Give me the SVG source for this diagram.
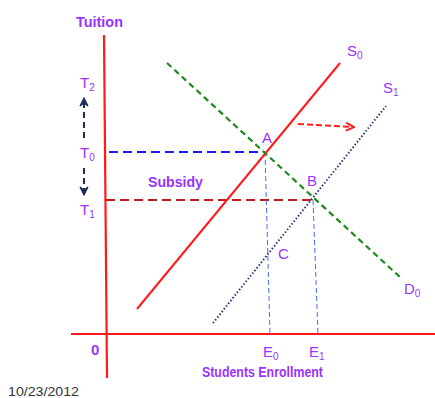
<svg xmlns="http://www.w3.org/2000/svg" width="435" height="398" viewBox="0 0 435 398">
<style>
.lbl{font-family:"Liberation Sans",Arial,sans-serif;fill:#9933ff;font-size:15px}
.sub{font-size:10px}
.ax{stroke:#ff1a1a;stroke-width:2.2;fill:none}
</style>
<defs>
<marker id="ah" viewBox="0 0 10 10" refX="8" refY="5" markerWidth="5" markerHeight="5" orient="auto"><path d="M1,1 L9,5 L1,9 L4,5 Z" fill="#1f2d5a" stroke="#1f2d5a" stroke-width="1.2"/></marker>
<marker id="rh" viewBox="0 0 10 10" refX="8" refY="5" markerWidth="5" markerHeight="5" orient="auto"><path d="M1,1 L9,5 L1,9" fill="none" stroke="#ff2020" stroke-width="2"/></marker>
</defs>
<rect width="435" height="398" fill="#fff"/>
<g id="connectors">
<line id="y-axis" class="ax" x1="104" y1="35" x2="107" y2="378"/>
<line id="x-axis" class="ax" x1="71" y1="334" x2="435" y2="334"/>
<line x1="109" y1="152" x2="265" y2="152" stroke="#1a1aff" stroke-width="2.2" stroke-dasharray="9,5"/>
<line x1="106" y1="200" x2="313" y2="200" stroke="#c41a1a" stroke-width="2.2" stroke-dasharray="9,5"/>
<line x1="265" y1="152" x2="270" y2="334" stroke="#4a6aff" stroke-width="1" stroke-dasharray="5,3"/>
<line x1="313" y1="200" x2="318" y2="334" stroke="#4a6aff" stroke-width="1" stroke-dasharray="5,3"/>
<line id="S0-line" x1="137" y1="309" x2="340" y2="63" stroke="#ff1a1a" stroke-width="2"/>
<line id="S1-line" x1="213" y1="323" x2="386" y2="106" stroke="#2b3d7a" stroke-width="2" stroke-dasharray="1.5,2"/>
<line id="D0-line" x1="167" y1="63" x2="401" y2="278" stroke="#1e8a1e" stroke-width="2.2" stroke-dasharray="6,4"/>
<line x1="298" y1="124" x2="353" y2="127" stroke="#ff2020" stroke-width="2" stroke-dasharray="6,3" marker-end="url(#rh)"/>
<line x1="84" y1="138" x2="84" y2="99" stroke="#1f2d5a" stroke-width="2" stroke-dasharray="6,4" marker-end="url(#ah)"/>
<line x1="84" y1="168" x2="84" y2="194" stroke="#1f2d5a" stroke-width="2" stroke-dasharray="6,4" marker-end="url(#ah)"/>
</g>
<g id="tuition"><text class="lbl" x="76" y="27" font-weight="bold" textLength="47" lengthAdjust="spacingAndGlyphs">Tuition</text></g>
<g id="T2"><text class="lbl" x="80" y="88">T<tspan class="sub" dy="3">2</tspan></text></g>
<g id="T0"><text class="lbl" x="80" y="158">T<tspan class="sub" dy="3">0</tspan></text></g>
<g id="T1"><text class="lbl" x="80" y="215">T<tspan class="sub" dy="3">1</tspan></text></g>
<g id="subsidy"><text class="lbl" x="148" y="187" font-weight="bold" textLength="55" lengthAdjust="spacingAndGlyphs">Subsidy</text></g>
<g id="A"><text class="lbl" x="262" y="143">A</text></g>
<g id="B"><text class="lbl" x="307" y="186">B</text></g>
<g id="C"><text class="lbl" x="278" y="259">C</text></g>
<g id="S0"><text class="lbl" x="347" y="56">S<tspan class="sub" dy="3">0</tspan></text></g>
<g id="S1"><text class="lbl" x="383" y="93">S<tspan class="sub" dy="3">1</tspan></text></g>
<g id="D0"><text class="lbl" x="404" y="294">D<tspan class="sub" dy="3">0</tspan></text></g>
<g id="E0"><text class="lbl" x="263" y="357">E<tspan class="sub" dy="3">0</tspan></text></g>
<g id="E1"><text class="lbl" x="309" y="357">E<tspan class="sub" dy="3">1</tspan></text></g>
<g id="origin"><text class="lbl" x="91" y="355" font-weight="bold" font-size="13">0</text></g>
<g id="xlabel"><text class="lbl" x="202" y="377" font-size="12" font-weight="bold" textLength="121" lengthAdjust="spacingAndGlyphs">Students Enrollment</text></g>
<g id="date"><text x="8" y="396" font-family="Liberation Sans,Arial,sans-serif" font-size="13" fill="#333" textLength="71" lengthAdjust="spacingAndGlyphs">10/23/2012</text></g>
</svg>
